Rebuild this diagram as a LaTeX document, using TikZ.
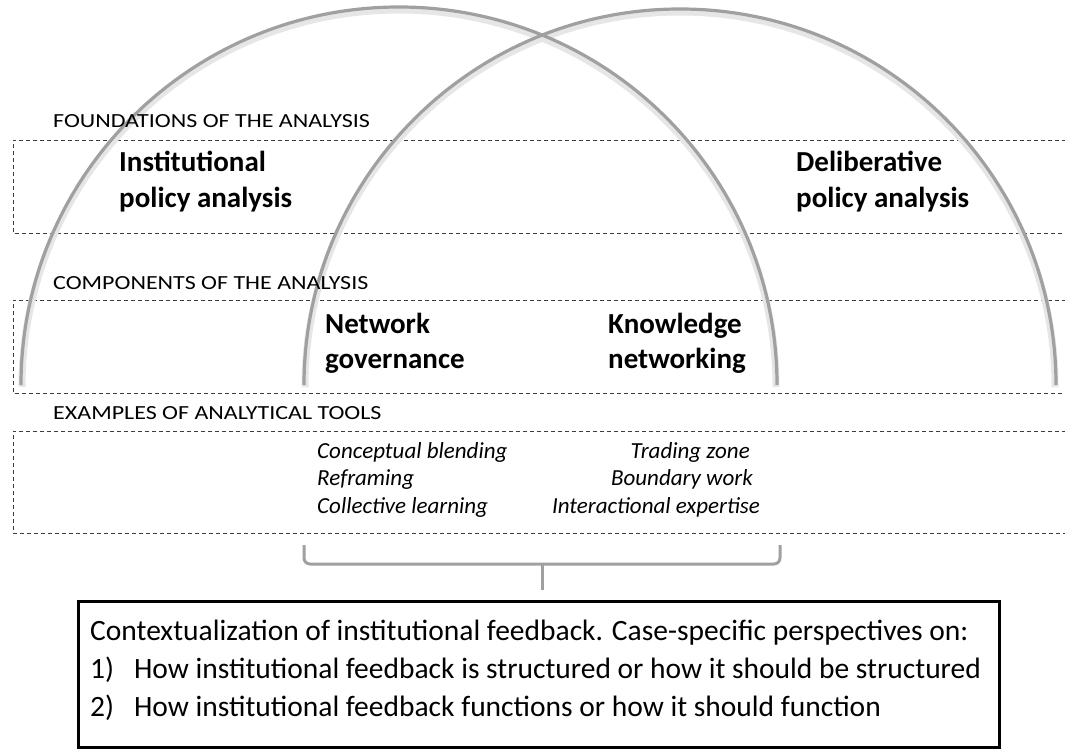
\documentclass[tikz,border=0pt]{standalone}
\usepackage{fontspec}
\setmainfont{Carlito}
\usepackage{graphicx}
\definecolor{arcgray}{RGB}{160,160,160}
\definecolor{arcshadow}{RGB}{230,230,230}
\definecolor{dashgray}{RGB}{60,60,60}
\begin{document}
\begin{tikzpicture}[x=1pt,y=-1pt,
  arcline/.style={draw=arcgray, line width=3.2pt},
  arcshade/.style={draw=arcshadow, line width=7pt},
  dashline/.style={draw=dashgray, line width=0.8pt, dash pattern=on 4pt off 3pt},
  caplabel/.style={anchor=base west, inner sep=0pt, font=\fontsize{20}{24}\selectfont},
  biglabel/.style={anchor=base west, inner sep=0pt, font=\fontsize{29}{35}\selectfont\bfseries},
  toolw/.style={anchor=base west, inner sep=0pt, font=\fontsize{23}{27}\selectfont\itshape},
  toole/.style={anchor=base east, inner sep=0pt, font=\fontsize{23}{27}\selectfont\itshape},
  resulttext/.style={anchor=base west, inner sep=0pt, font=\fontsize{29.5}{35}\selectfont},
  resultbox/.style={draw=black, line width=3pt, minimum width=921pt, minimum height=146pt, inner sep=0pt},
  bracket/.style={draw=arcgray, line width=3pt, rounded corners=6pt}]
\useasboundingbox (0,0) rectangle (1065,751);
\fill[white] (0,0) rectangle (1065,751);

% dashed bands
\draw[dashline] (1066,140) -- (13,140) -- (13,233) -- (1066,233);
\draw[dashline] (1066,300) -- (13,300) -- (13,393) -- (1066,393);
\draw[dashline] (1066,431) -- (13,431) -- (13,533) -- (1066,533);

% arcs (shadow then line)
\draw[arcshade] (22,387) arc[start angle=180, end angle=0, radius=377pt];
\draw[arcshade] (305,387) arc[start angle=180, end angle=0, radius=375pt];
\draw[arcline] (21,385) arc[start angle=180, end angle=0, radius=378pt];
\draw[arcline] (304,385) arc[start angle=180, end angle=0, radius=376pt];

% section labels
\node[caplabel] (foundations) at (53,128) {\scalebox{1.2}[1]{FOUNDATIONS OF THE ANALYSIS}};
\node[caplabel] (components) at (53,289) {\scalebox{1.2}[1]{COMPONENTS OF THE ANALYSIS}};
\node[caplabel] (examples) at (53,419) {\scalebox{1.2}[1]{EXAMPLES OF ANALYTICAL TOOLS}};

% foundations
\node[biglabel] (inst1) at (119,172) {Institutional};
\node[biglabel] (inst2) at (119,208) {policy analysis};
\node[biglabel] (delib1) at (796,172) {Deliberative};
\node[biglabel] (delib2) at (796,208) {policy analysis};

% components
\node[biglabel] (net1) at (325,333) {Network};
\node[biglabel] (net2) at (325,368) {governance};
\node[biglabel] (know1) at (608,333) {Knowledge};
\node[biglabel] (know2) at (608,368) {networking};

% tools
\node[toolw] (t1) at (317,458) {Conceptual blending};
\node[toolw] (t2) at (317,485) {Reframing};
\node[toolw] (t3) at (317,513) {Collective learning};
\node[toole] (t4) at (750,458) {Trading zone};
\node[toole] (t5) at (753,485) {Boundary work};
\node[toole] (t6) at (760,513) {Interactional expertise};

% bracket
\coordinate (bl) at (304,545);
\coordinate (br) at (780,545);
\coordinate (bm) at (542,564);
\coordinate (btip) at (542,590);
\draw[bracket] (bl) -- (304,564) -- (780,564) -- (br);
\draw[draw=arcgray, line width=3pt] (bm) -- (btip);

% result box
\node[resultbox] (result) at (538.5,674.5) {};
\node[resulttext] (r1) at (90,640) {Contextualization of institutional feedback. Case-specific perspectives on:};
\node[resulttext] (r2) at (90,678) {1)\hspace{20pt}How institutional feedback is structured or how it should be structured};
\node[resulttext] (r3) at (90,716) {2)\hspace{20pt}How institutional feedback functions or how it should function};
\end{tikzpicture}
\end{document}
